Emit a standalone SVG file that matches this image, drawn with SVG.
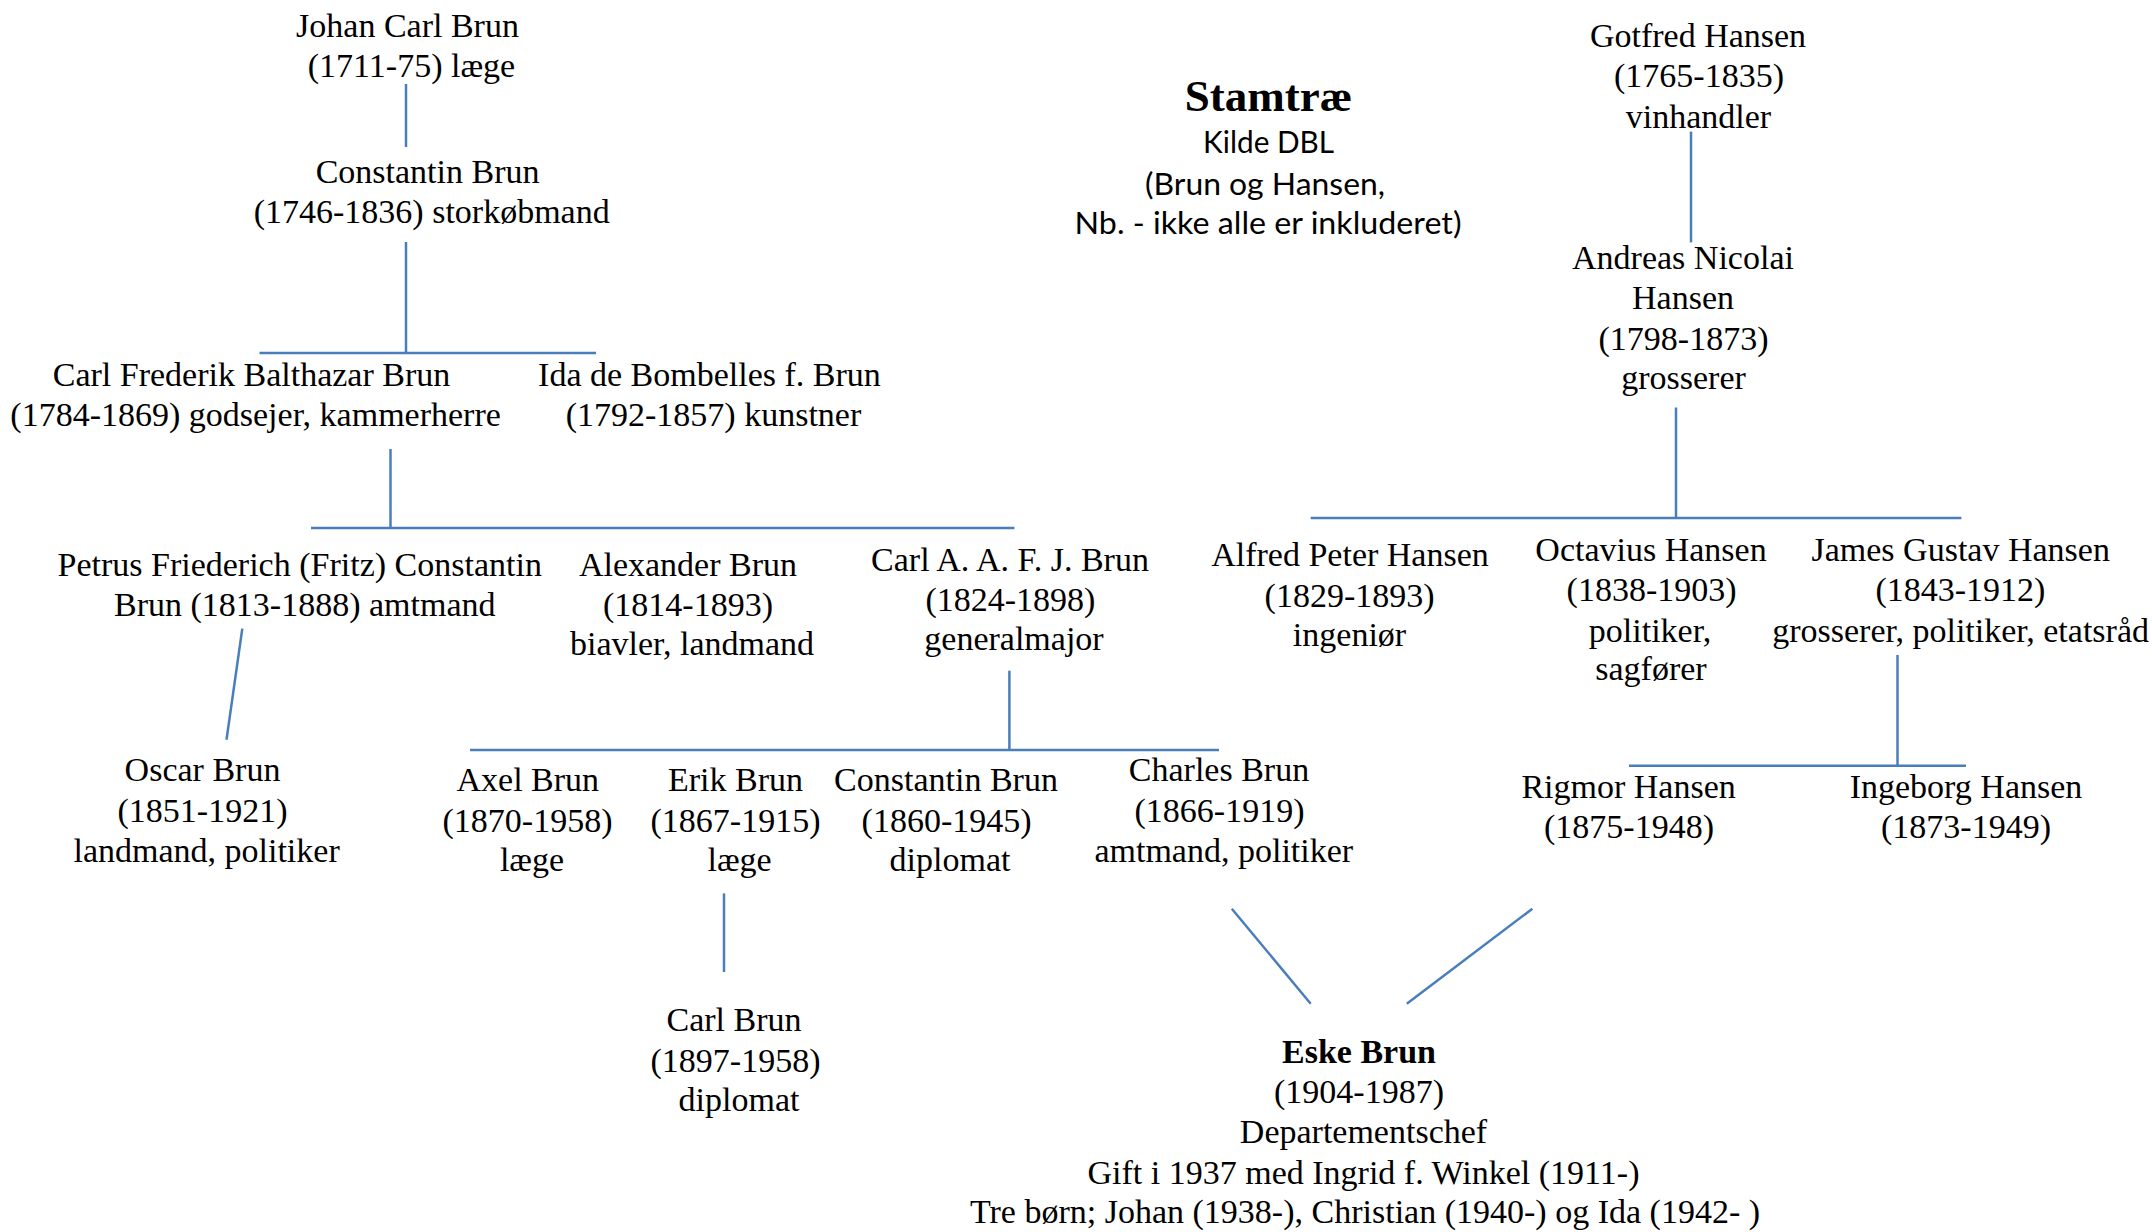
<svg xmlns="http://www.w3.org/2000/svg" width="2152" height="1232" viewBox="0 0 2152 1232">
<style>
.t{font-family:"Liberation Serif","Times New Roman",serif;font-size:34px;text-anchor:middle;fill:#000}
.b{font-weight:bold}
.h{font-size:45px;font-weight:bold}
.s{font-family:Lato,"Liberation Sans",sans-serif;font-size:30px;text-anchor:middle;fill:#000}
.c line{stroke:#4A7EBB;stroke-width:2.5;fill:none}
</style>
<rect width="2152" height="1232" fill="#fff"/>
<g id="connectors" class="c">
<line x1="406" y1="84" x2="406" y2="147"/>
<line x1="406" y1="242" x2="406" y2="353"/>
<line x1="259.5" y1="353" x2="596" y2="353"/>
<line x1="390.5" y1="449" x2="390.5" y2="528"/>
<line x1="311" y1="528" x2="1014.4" y2="528"/>
<line x1="242.3" y1="628.6" x2="226.5" y2="739.8"/>
<line x1="1009.4" y1="670.7" x2="1009.4" y2="749.6"/>
<line x1="470" y1="750" x2="1219" y2="750"/>
<line x1="724" y1="893.4" x2="724" y2="972"/>
<line x1="1231.8" y1="908.7" x2="1310.7" y2="1003.8"/>
<line x1="1532.4" y1="908.7" x2="1406.8" y2="1003.8"/>
<line x1="1691" y1="131.6" x2="1691" y2="242.4"/>
<line x1="1676" y1="407.5" x2="1676" y2="518"/>
<line x1="1310.7" y1="518" x2="1961.4" y2="518"/>
<line x1="1897.5" y1="655" x2="1897.5" y2="765"/>
<line x1="1629" y1="765.7" x2="1966" y2="765.7"/>
</g>
<g id="title">
<text class="t h" x="1268.5" y="110.7">Stamtræ</text>
<text class="s" x="1268.6" y="153.3" textLength="131" lengthAdjust="spacingAndGlyphs">Kilde DBL</text>
<text class="s" x="1265" y="195" textLength="240" lengthAdjust="spacingAndGlyphs">(Brun og Hansen,</text>
<text class="s" x="1268" y="234.3" textLength="387" lengthAdjust="spacingAndGlyphs">Nb. - ikke alle er inkluderet)</text>
</g>
<g id="johan-carl-brun">
<text class="t" x="407.5" y="37">Johan Carl Brun</text>
<text class="t" x="411.5" y="77">(1711-75) læge</text>
</g>
<g id="constantin-brun-1746">
<text class="t" x="427.6" y="183">Constantin Brun</text>
<text class="t" x="431.7" y="223">(1746-1836) storkøbmand</text>
</g>
<g id="carl-frederik">
<text class="t" x="251.5" y="386">Carl Frederik Balthazar Brun</text>
<text class="t" x="255.6" y="426">(1784-1869) godsejer, kammerherre</text>
</g>
<g id="ida">
<text class="t" x="709.5" y="386">Ida de Bombelles f. Brun</text>
<text class="t" x="713.5" y="426">(1792-1857) kunstner</text>
</g>
<g id="petrus">
<text class="t" x="299.7" y="575.6">Petrus Friederich (Fritz) Constantin</text>
<text class="t" x="304.8" y="616">Brun (1813-1888) amtmand</text>
</g>
<g id="alexander">
<text class="t" x="688" y="575.6">Alexander Brun</text>
<text class="t" x="688" y="616">(1814-1893)</text>
<text class="t" x="692" y="655">biavler, landmand</text>
</g>
<g id="carl-a">
<text class="t" x="1010" y="570.7">Carl A. A. F. J. Brun</text>
<text class="t" x="1010.4" y="611">(1824-1898)</text>
<text class="t" x="1014" y="650">generalmajor</text>
</g>
<g id="oscar">
<text class="t" x="202.5" y="781">Oscar Brun</text>
<text class="t" x="202.5" y="822">(1851-1921)</text>
<text class="t" x="206.6" y="862">landmand, politiker</text>
</g>
<g id="axel">
<text class="t" x="527.8" y="791">Axel Brun</text>
<text class="t" x="527.5" y="832">(1870-1958)</text>
<text class="t" x="532" y="871">læge</text>
</g>
<g id="erik">
<text class="t" x="735.5" y="791">Erik Brun</text>
<text class="t" x="735.5" y="832">(1867-1915)</text>
<text class="t" x="739.6" y="871">læge</text>
</g>
<g id="constantin-brun-1860">
<text class="t" x="946" y="791">Constantin Brun</text>
<text class="t" x="946.6" y="832">(1860-1945)</text>
<text class="t" x="950" y="871">diplomat</text>
</g>
<g id="charles">
<text class="t" x="1219" y="781">Charles Brun</text>
<text class="t" x="1219.5" y="822">(1866-1919)</text>
<text class="t" x="1223.8" y="862">amtmand, politiker</text>
</g>
<g id="carl-brun">
<text class="t" x="734" y="1030.5">Carl Brun</text>
<text class="t" x="735.5" y="1071.8">(1897-1958)</text>
<text class="t" x="739" y="1111">diplomat</text>
</g>
<g id="eske">
<text class="t b" x="1359" y="1062.8">Eske Brun</text>
<text class="t" x="1359" y="1103">(1904-1987)</text>
<text class="t" x="1363.5" y="1142.5">Departementschef</text>
<text class="t" x="1363.5" y="1183.8">Gift i 1937 med Ingrid f. Winkel (1911-)</text>
<text class="t" x="1365" y="1223">Tre børn; Johan (1938-), Christian (1940-) og Ida (1942- )</text>
</g>
<g id="gotfred">
<text class="t" x="1698" y="47">Gotfred Hansen</text>
<text class="t" x="1699" y="87">(1765-1835)</text>
<text class="t" x="1698.4" y="127.7">vinhandler</text>
</g>
<g id="andreas">
<text class="t" x="1683" y="269">Andreas Nicolai</text>
<text class="t" x="1683" y="309">Hansen</text>
<text class="t" x="1683.5" y="349.7">(1798-1873)</text>
<text class="t" x="1683.5" y="389">grosserer</text>
</g>
<g id="alfred">
<text class="t" x="1350" y="566">Alfred Peter Hansen</text>
<text class="t" x="1349.6" y="607">(1829-1893)</text>
<text class="t" x="1349.5" y="645.5">ingeniør</text>
</g>
<g id="octavius">
<text class="t" x="1651" y="561">Octavius Hansen</text>
<text class="t" x="1651.6" y="601">(1838-1903)</text>
<text class="t" x="1650" y="641.5">politiker,</text>
<text class="t" x="1651" y="680">sagfører</text>
</g>
<g id="james">
<text class="t" x="1960.7" y="561">James Gustav Hansen</text>
<text class="t" x="1960.4" y="601">(1843-1912)</text>
<text class="t" x="1960.6" y="641.5">grosserer, politiker, etatsråd</text>
</g>
<g id="rigmor">
<text class="t" x="1628.6" y="797.5">Rigmor Hansen</text>
<text class="t" x="1629" y="838">(1875-1948)</text>
</g>
<g id="ingeborg">
<text class="t" x="1966" y="797.5">Ingeborg Hansen</text>
<text class="t" x="1966" y="838">(1873-1949)</text>
</g>
</svg>
